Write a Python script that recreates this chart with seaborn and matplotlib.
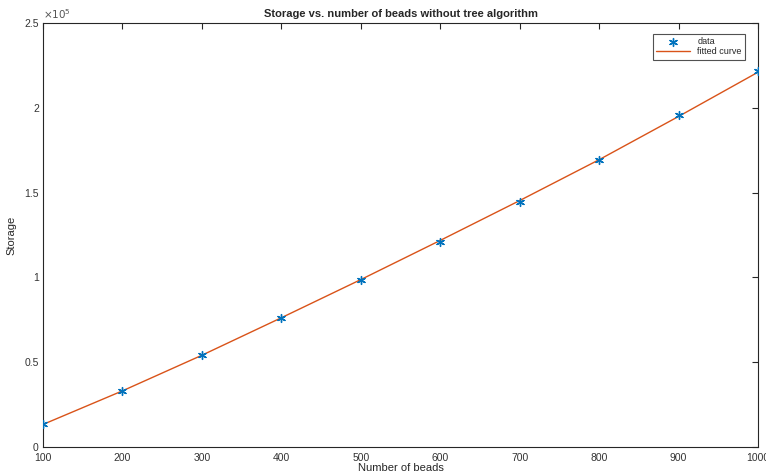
import numpy as np
import pandas as pd
import matplotlib
matplotlib.use('Agg')
import matplotlib.pyplot as plt
import seaborn as sns
from matplotlib.ticker import FuncFormatter

# values
beads = [100, 200, 300, 400, 500, 600, 700, 800, 900, 1000]
storage = [13600, 33000, 54200, 76100, 98500, 120900, 144500, 169200, 195800, 221700]
fit_beads = [100, 200, 300, 400, 500, 600, 700, 800, 900, 1000]
fit_storage = [13300, 33100, 54100, 76200, 98700, 121800, 145300, 169400, 194900, 221000]

sns.set_style('white')
plt.rcParams['font.family'] = ['Liberation Sans', 'DejaVu Sans']

fig = plt.figure(figsize=(7.66, 4.75), dpi=100)
ax = fig.add_axes([43 / 766, 28 / 475, 715 / 766, 424 / 475])

sns.lineplot(x=fit_beads, y=fit_storage, ax=ax, color='#D95319', linewidth=1,
             label='fitted curve', zorder=2)
sns.scatterplot(x=beads, y=storage, ax=ax, marker=(6, 2, 0), s=32, linewidth=1.0,
                color='#0072BD', edgecolor='#0072BD', label='data', zorder=3)

ax.set_xlim(100, 1000)
ax.set_ylim(0, 250000)
ax.set_xticks(range(100, 1001, 100))
ax.set_yticks(np.arange(0, 250001, 50000))
ax.yaxis.set_major_formatter(FuncFormatter(lambda v, p: '%g' % (v / 1e5)))
ax.tick_params(direction='in', top=True, right=True, length=4, width=0.8,
               labelsize=7.5, colors='#262626', labelcolor='#333333', pad=3)
ax.tick_params(axis='x', pad=4)
for s in ax.spines.values():
    s.set_color('#262626')
    s.set_linewidth(0.8)

ax.text(0.0, 1.005, r'$\times10^5$', transform=ax.transAxes, fontsize=7.5,
        color='#555555', ha='left', va='bottom')
ax.set_title('Storage vs. number of beads without tree algorithm', fontsize=8,
             fontweight='bold', pad=4)
ax.set_xlabel('Number of beads', fontsize=8, labelpad=0)
ax.set_ylabel('Storage', fontsize=8, labelpad=6)

handles, labels = ax.get_legend_handles_labels()
order = [labels.index('data'), labels.index('fitted curve')]
leg = ax.legend([handles[i] for i in order], [labels[i] for i in order],
                loc='upper right', bbox_to_anchor=(0.988, 0.985), fontsize=6.5,
                frameon=True, fancybox=False, edgecolor='#262626',
                handlelength=3.8, borderpad=0.35, labelspacing=0.15)
leg.get_frame().set_linewidth(0.8)

fig.savefig('out.png', dpi=100)
